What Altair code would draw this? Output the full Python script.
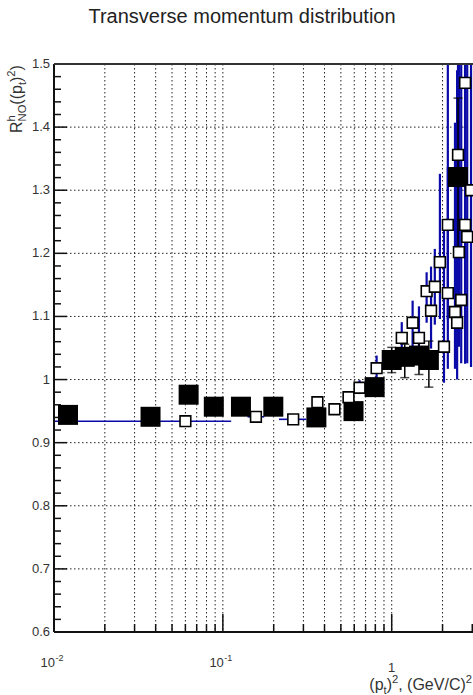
import altair as alt
import pandas as pd

# ---- data -------------------------------------------------------------
# filled squares (black error bars)
f_x = [0.0121, 0.0373, 0.0627, 0.0884, 0.128, 0.199, 0.358, 0.594, 0.792, 1.0, 1.195, 1.45, 1.66, 2.47]
f_y = [0.944, 0.941, 0.976, 0.957, 0.957, 0.957, 0.940, 0.950, 0.988, 1.031, 1.036, 1.038, 1.031, 1.321]
f_lo = [0.003, 0.003, 0.004, 0.005, 0.005, 0.008, 0.008, 0.010, 0.012, 0.020, 0.033, 0.030, 0.043, 0.125]
f_hi = [0.003, 0.003, 0.004, 0.005, 0.005, 0.008, 0.008, 0.010, 0.012, 0.020, 0.020, 0.030, 0.030, 0.125]

# open squares (blue error bars)
o_x = [0.060, 0.157, 0.261, 0.363, 0.458, 0.555, 0.645, 0.814, 1.147, 1.33, 1.45, 1.61, 1.71, 1.80,
       1.93, 2.04, 2.15, 2.15, 2.37, 2.44, 2.47, 2.58, 2.50, 2.72, 2.72, 2.80, 2.95]
o_y = [0.934, 0.941, 0.937, 0.964, 0.953, 0.972, 0.987, 1.018, 1.066, 1.090, 1.066, 1.140, 1.109, 1.147,
       1.186, 1.052, 1.137, 1.245, 1.107, 1.090, 1.356, 1.126, 1.202, 1.245, 1.470, 1.226, 1.300]
o_lo = [0.003, 0.004, 0.004, 0.006, 0.006, 0.008, 0.010, 0.018, 0.020, 0.040, 0.030, 0.050, 0.060, 0.060,
        0.090, 0.057, 0.120, 0.150, 0.090, 0.090, 0.250, 0.100, 0.150, 0.220, 0.400, 0.200, 0.280]
o_hi = [0.003, 0.004, 0.004, 0.006, 0.006, 0.009, 0.012, 0.020, 0.025, 0.035, 0.050, 0.030, 0.070, 0.060,
        0.140, 0.200, 0.200, 0.300, 0.300, 0.400, 0.300, 0.400, 0.300, 0.400, 0.400, 0.400, 0.500]
o_xlo = [0.010, 0.140, 0.215]
o_xhi = [0.112, 0.176, 0.312]

x_major = [0.01, 0.1, 1.0]
x_minor = [0.02, 0.03, 0.04, 0.05, 0.06, 0.07, 0.08, 0.09,
           0.2, 0.3, 0.4, 0.5, 0.6, 0.7, 0.8, 0.9, 2.0, 3.0]
x_grid = [0.02, 0.03, 0.04, 0.05, 0.06, 0.07, 0.08, 0.09, 0.1,
          0.2, 0.3, 0.4, 0.5, 0.6, 0.7, 0.8, 0.9, 1.0, 2.0]
y_major = [0.6, 0.7, 0.8, 0.9, 1.0, 1.1, 1.2, 1.3, 1.4, 1.5]
y_labels = ["0.6", "0.7", "0.8", "0.9", "1", "1.1", "1.2", "1.3", "1.4", "1.5"]
y_minor = [round(0.6 + 0.02 * i, 2) for i in range(46) if i % 5 != 0]
y_grid = [0.7, 0.8, 0.9, 1.0, 1.1, 1.2, 1.3, 1.4]
x_label_base = ["10", "10", "1"]
x_label_sup = ["-2", "-1", ""]

# ---- geometry / style -------------------------------------------------
W, H = 419, 568
FONT = "Liberation Sans"
BLUE = "#0a0aa8"
TXT = "#333"

fdf = pd.DataFrame({"x": f_x, "y": f_y})
fdf["ylo"] = [y - e for y, e in zip(f_y, f_lo)]
fdf["yhi"] = [y + e for y, e in zip(f_y, f_hi)]
odf = pd.DataFrame({"x": o_x, "y": o_y})
odf["ylo"] = [y - e for y, e in zip(o_y, o_lo)]
odf["yhi"] = [y + e for y, e in zip(o_y, o_hi)]
oxdf = pd.DataFrame({"xlo": o_xlo, "xhi": o_xhi, "y": o_y[:3]})

xs = alt.Scale(type="log", domain=[0.01, 3.03], nice=False)
ys = alt.Scale(domain=[0.6, 1.5], nice=False, zero=False)


def X(f="x"):
    return alt.X(f"{f}:Q", scale=xs, axis=None)


def Y(f="y"):
    return alt.Y(f"{f}:Q", scale=ys, axis=None)


dots = dict(strokeDash=[1.5, 2.5], color="#222", strokeWidth=1)

grid_v = alt.Chart(pd.DataFrame({"x": x_grid})).mark_rule(**dots).encode(
    x=X(), y=alt.value(0), y2=alt.value(H))
grid_h = alt.Chart(pd.DataFrame({"y": y_grid})).mark_rule(**dots).encode(
    y=Y(), x=alt.value(0), x2=alt.value(W))

tick_style = dict(color="#111", strokeWidth=1.5)
xt_minor = alt.Chart(pd.DataFrame({"x": x_minor})).mark_rule(**tick_style).encode(
    x=X(), y=alt.value(H), y2=alt.value(H - 8))
xt_major = alt.Chart(pd.DataFrame({"x": x_major})).mark_rule(**tick_style).encode(
    x=X(), y=alt.value(H), y2=alt.value(H - 18))
yt_minor = alt.Chart(pd.DataFrame({"y": y_minor})).mark_rule(**tick_style).encode(
    y=Y(), x=alt.value(0), x2=alt.value(7))
yt_major = alt.Chart(pd.DataFrame({"y": y_major})).mark_rule(**tick_style).encode(
    y=Y(), x=alt.value(0), x2=alt.value(13))

frame_style = dict(color="#111", strokeWidth=2)
frame_left = alt.Chart(pd.DataFrame({"a": [0]})).mark_rule(**frame_style).encode(
    x=alt.value(0), y=alt.value(0), y2=alt.value(H))
frame_bottom = alt.Chart(pd.DataFrame({"a": [0]})).mark_rule(**frame_style).encode(
    x=alt.value(0), x2=alt.value(W), y=alt.value(H))
frame_top = alt.Chart(pd.DataFrame({"a": [0]})).mark_rule(color="#333", strokeWidth=2).encode(
    x=alt.value(0), x2=alt.value(W), y=alt.value(0))

# open-square series: blue error bars
o_bars = alt.Chart(odf).mark_rule(color=BLUE, strokeWidth=2.2, clip=True).encode(
    x=X(), y=Y("ylo"), y2="yhi:Q")
o_xbars = alt.Chart(oxdf).mark_rule(color=BLUE, strokeWidth=1.6, clip=True).encode(
    x=X("xlo"), x2="xhi:Q", y=Y())

# filled-square series: black error bars with caps
f_bars = alt.Chart(fdf).mark_rule(color="#000", strokeWidth=1.5, clip=True).encode(
    x=X(), y=Y("ylo"), y2="yhi:Q")
f_cap_lo = alt.Chart(fdf).mark_tick(color="#000", orient="horizontal", size=9, thickness=1.5,
                                    clip=True).encode(x=X(), y=Y("ylo"))
f_cap_hi = alt.Chart(fdf).mark_tick(color="#000", orient="horizontal", size=9, thickness=1.5,
                                    clip=True).encode(x=X(), y=Y("yhi"))
f_pts = alt.Chart(fdf).mark_square(size=400, color="#000", opacity=1, clip=True).encode(
    x=X(), y=Y())
o_pts = alt.Chart(odf).mark_square(size=115, filled=True, fill="white", stroke="#000",
                                   strokeWidth=1.6, opacity=1, clip=True).encode(x=X(), y=Y())

# y tick labels
yl = pd.DataFrame({"y": y_major, "lab": y_labels})
y_lab = alt.Chart(yl).mark_text(font=FONT, fontSize=13, color=TXT, align="right",
                                baseline="middle").encode(
    y=Y(), x=alt.value(-4), text="lab:N")

# x tick labels (10 with a raised exponent, plain "1")
xl = pd.DataFrame({"x": x_major, "base": x_label_base, "sup": x_label_sup})
xl_base_pow = alt.Chart(xl[xl["sup"] != ""]).mark_text(
    font=FONT, fontSize=13, color=TXT, align="right", baseline="alphabetic", dx=1).encode(
    x=X(), y=alt.value(603), text="base:N")
xl_sup = alt.Chart(xl[xl["sup"] != ""]).mark_text(
    font=FONT, fontSize=9, color=TXT, align="left", baseline="alphabetic", dx=1.5).encode(
    x=X(), y=alt.value(597), text="sup:N")
xl_one = alt.Chart(xl[xl["sup"] == ""]).mark_text(
    font=FONT, fontSize=13, color=TXT, align="center", baseline="alphabetic").encode(
    x=X(), y=alt.value(608), text="base:N")

# axis titles built from base / subscript / superscript runs (Arial-style advance widths)
ADV = {"R": .722, "h": .556, "N": .722, "O": .778, "(": .333, ")": .333, "p": .556,
       "t": .278, "2": .556, ",": .278, " ": .278, "G": .778, "e": .556, "V": .667,
       "/": .278, "C": .722}
FS, SFS = 16, 11.2


def width(s, fs):
    return sum(ADV[c] for c in s) * fs


def runs_layout(runs):
    """runs: list of (text, kind) with kind in base/sub/sup/subsup; returns offsets along text."""
    out, pos = [], 0.0
    for text, kind in runs:
        if kind == "subsup":
            sup, sub = text
            out.append((sup, SFS, pos, -0.42 * FS))
            out.append((sub, SFS, pos, 0.22 * FS))
            pos += max(width(sup, SFS), width(sub, SFS))
        else:
            fs = FS if kind == "base" else SFS
            shift = {"base": 0.0, "sub": 0.22 * FS, "sup": -0.42 * FS}[kind]
            out.append((text, fs, pos, shift))
            pos += width(text, fs)
    return out, pos


ytitle_runs = [("R", "base"), (("h", "NO"), "subsup"), ("((p", "base"), ("t", "sub"),
               (")", "base"), ("2", "sup"), (")", "base")]
xtitle_runs = [("(p", "base"), ("t", "sub"), (")", "base"), ("2", "sup"),
               (", (GeV/C)", "base"), ("2", "sup")]

yt_pieces, _ = runs_layout(ytitle_runs)
y_base_x, y_start = 22 - 54, 133 - 64
ytdf = pd.DataFrame({
    "t": [p[0] for p in yt_pieces], "fs": [p[1] for p in yt_pieces],
    "px": [y_base_x + p[3] for p in yt_pieces], "py": [y_start - p[2] for p in yt_pieces]})

xt_pieces, xt_len = runs_layout(xtitle_runs)
x_start, x_base_y = 472 - 54 - xt_len, 690 - 64
xtdf = pd.DataFrame({
    "t": [p[0] for p in xt_pieces], "fs": [p[1] for p in xt_pieces],
    "px": [x_start + p[2] for p in xt_pieces], "py": [x_base_y + p[3] for p in xt_pieces]})

y_title = alt.Chart(ytdf).mark_text(font=FONT, color=TXT, angle=270, align="left",
                                    baseline="alphabetic").encode(
    x=alt.X("px:Q", scale=None), y=alt.Y("py:Q", scale=None), text="t:N",
    size=alt.Size("fs:Q", scale=None))
x_title = alt.Chart(xtdf).mark_text(font=FONT, color=TXT, align="left",
                                    baseline="alphabetic").encode(
    x=alt.X("px:Q", scale=None), y=alt.Y("py:Q", scale=None), text="t:N",
    size=alt.Size("fs:Q", scale=None))

main_title = alt.Chart(pd.DataFrame({"t": ["Transverse momentum distribution"]})).mark_text(
    font=FONT, fontSize=20, color="#222", align="center", baseline="alphabetic").encode(
    x=alt.value(242 - 54), y=alt.value(23 - 64), text="t:N")

chart = alt.layer(
    grid_h, grid_v, xt_minor, xt_major, yt_minor, yt_major,
    o_bars, o_xbars, f_bars, f_cap_lo, f_cap_hi, f_pts, o_pts,
    frame_left, frame_bottom, frame_top,
    y_lab, xl_base_pow, xl_sup, xl_one, y_title, x_title, main_title,
).resolve_scale(size="independent").properties(
    width=W, height=H,
    autosize=alt.AutoSizeParams(type="none"),
    padding={"left": 54, "top": 64, "right": 0, "bottom": 63},
    background="white",
).configure_view(stroke=None)

chart.save("out.html", embed_options={"renderer": "svg", "actions": False})
